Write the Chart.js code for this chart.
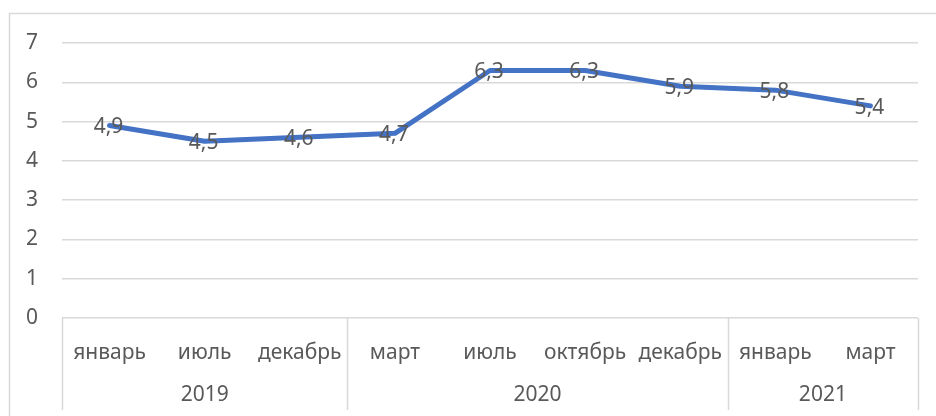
<!DOCTYPE html>
<html>
<head>
<meta charset="utf-8">
<script src="https://cdn.jsdelivr.net/npm/chart.js@4"></script>
<style>
  body { margin: 0; background: #fff; }
  #wrap { width: 936px; height: 416px; }
</style>
</head>
<body>
<div id="wrap"><canvas id="myChart" width="936" height="416"></canvas></div>
<script>
// data
var months = ['январь', 'июль', 'декабрь', 'март', 'июль', 'октябрь', 'декабрь', 'январь', 'март'];
var values = [4.9, 4.5, 4.6, 4.7, 6.3, 6.3, 5.9, 5.8, 5.4];
var years = ['2019', '2020', '2021'];
var yearSizes = [3, 4, 2];
var yTicks = [0, 1, 2, 3, 4, 5, 6, 7];

var FONT = '"Noto Sans", sans-serif';
var TXT = '#595959';
var GRID = '#d9d9d9';
var SIZE = 21;

// frame, value labels, year row and group separators
var extras = {
    id: 'extras',
    afterDraw: function(chart){
        var ctx = chart.ctx;
        var x = chart.scales.x;
        var area = chart.chartArea;
        ctx.save();
        ctx.strokeStyle = GRID;
        ctx.lineWidth = 1.5;
        ctx.strokeRect(9.5, 13.5, 940, 420);

        // separators in the axis area
        var bottom = 410;
        var edges = [area.left];
        var start = 0;
        for (var g = 0; g < yearSizes.length; g++){
            var end = start + yearSizes[g] - 1;
            var right = g == yearSizes.length - 1 ? area.right :
                (x.getPixelForValue(end) + x.getPixelForValue(end + 1)) / 2;
            edges.push(right);
            var cx = (x.getPixelForValue(start) + x.getPixelForValue(end)) / 2;
            ctx.fillStyle = TXT;
            ctx.font = SIZE + 'px ' + FONT;
            ctx.textAlign = 'center';
            ctx.textBaseline = 'middle';
            ctx.fillText(years[g], cx, 395);
            start = end + 1;
        }
        ctx.beginPath();
        for (var i = 0; i < edges.length; i++){
            ctx.moveTo(Math.round(edges[i]) + 0.5, area.bottom);
            ctx.lineTo(Math.round(edges[i]) + 0.5, bottom);
        }
        ctx.stroke();

        // data labels
        var meta = chart.getDatasetMeta(0);
        ctx.fillStyle = TXT;
        ctx.font = SIZE + 'px ' + FONT;
        meta.data.forEach(function(pt, i){
            ctx.fillText(String(values[i]).replace('.', ','), pt.x - 1, pt.y + 2);
        });
        ctx.restore();
    }
};

var ctx = document.getElementById('myChart').getContext('2d');
var myChart = new Chart(ctx, {
    type: 'line',
    data: {
        labels: months,
        datasets: [{
            data: values,
            borderColor: '#4472C4',
            borderWidth: 5,
            borderCapStyle: 'round',
            borderJoinStyle: 'round',
            pointRadius: 0,
            tension: 0
        }]
    },
    options: {
        responsive: false,
        animation: false,
        layout: { padding: { top: 43, right: 18, left: 0, bottom: 0 } },
        plugins: { legend: { display: false }, tooltip: { enabled: false } },
        scales: {
            x: {
                offset: true,
                grid: { display: false },
                border: { display: false },
                ticks: { color: TXT, font: { family: FONT, size: SIZE }, padding: 14, maxRotation: 0, autoSkip: false },
                afterFit: function(s){ s.height = 98; }
            },
            y: {
                min: 0,
                max: 7,
                afterBuildTicks: function(s){ s.ticks = yTicks.map(function(v){ return { value: v }; }); },
                grid: { color: GRID, lineWidth: 1.5, drawTicks: false },
                border: { display: false },
                ticks: { color: TXT, font: { family: FONT, size: SIZE }, padding: 24 },
                afterFit: function(s){ s.width = 62; }
            }
        }
    },
    plugins: [extras]
});
</script>
</body>
</html>
